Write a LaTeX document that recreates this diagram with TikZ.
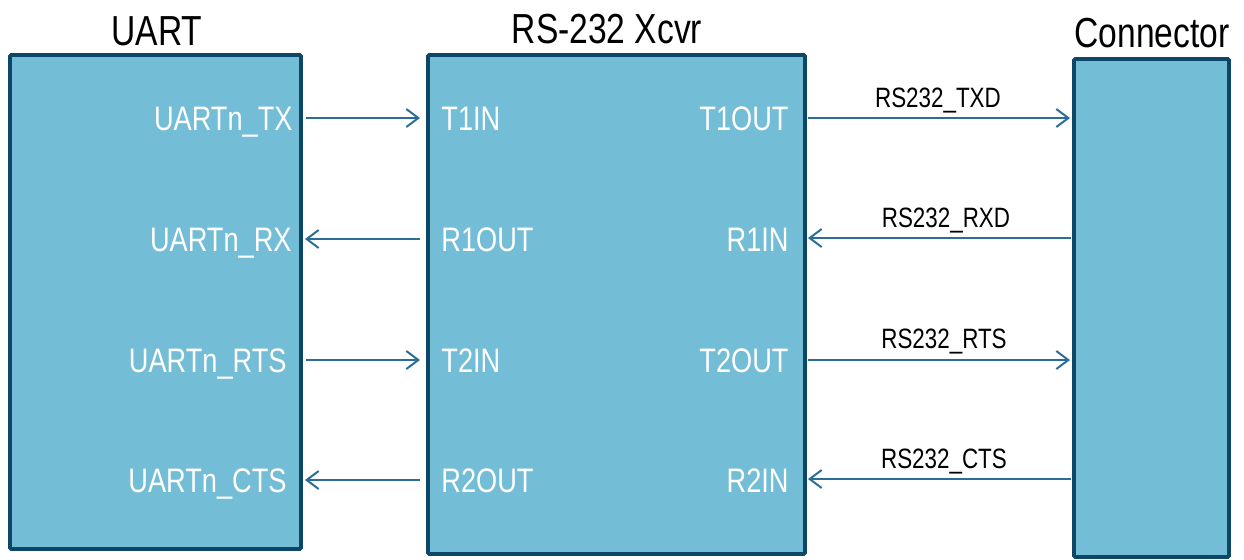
\documentclass[tikz,border=0pt]{standalone}
\usepackage{fontspec}
\setmainfont[FakeStretch=0.8]{Liberation Sans}
\usetikzlibrary{arrows.meta}
\definecolor{boxfill}{HTML}{73BDD7}
\definecolor{boxline}{HTML}{0D4767}
\definecolor{wire}{HTML}{2A6E97}
\begin{document}
\begin{tikzpicture}[x=0.5pt,y=-0.5pt,
  blk/.style={draw=boxline, line width=1.8pt, fill=boxfill, inner sep=0pt, rounded corners=0.6pt},
  ttl/.style={font=\fontsize{21}{24}\selectfont, text=black, inner sep=0pt, anchor=base},
  pin/.style={font=\fontsize{17}{20}\selectfont, text=white, inner sep=0pt},
  sig/.style={font=\fontsize{14}{16}\selectfont, text=black, inner sep=0pt, anchor=base},
  wireto/.style={draw=wire, line width=1pt, -{Straight Barb[length=6pt,width=9pt,line width=1pt]}}]
\useasboundingbox (0,0) rectangle (1244,559);
% blocks
\node[blk, minimum width=145.5pt, minimum height=247pt] (uart) at (155.5,302) {};
\node[blk, minimum width=188.5pt, minimum height=249.5pt] (xcvr) at (616.5,304.5) {};
\node[blk, minimum width=77.5pt, minimum height=249pt] (conn) at (1151.5,308) {};
% titles
\node[ttl] (tuart) at (157,45) {UART};
\node[ttl] (txcvr) at (607,43) {RS-232 Xcvr};
\node[ttl] (tconn) at (1152,47) {Connector};
% UART pins
\node[pin, anchor=base east] (utx) at (293,130) {UARTn\_TX};
\node[pin, anchor=base east] (urx) at (292,251) {UARTn\_RX};
\node[pin, anchor=base east] (urts) at (287,372) {UARTn\_RTS};
\node[pin, anchor=base east] (ucts) at (287,492) {UARTn\_CTS};
% Xcvr left pins
\node[pin, anchor=base west] (t1in) at (441,130) {T1IN};
\node[pin, anchor=base west] (r1out) at (441,251) {R1OUT};
\node[pin, anchor=base west] (t2in) at (441,372) {T2IN};
\node[pin, anchor=base west] (r2out) at (441,492) {R2OUT};
% Xcvr right pins
\node[pin, anchor=base east] (t1out) at (789,130) {T1OUT};
\node[pin, anchor=base east] (r1in) at (789,251) {R1IN};
\node[pin, anchor=base east] (t2out) at (789,372) {T2OUT};
\node[pin, anchor=base east] (r2in) at (789,492) {R2IN};
% wire end points
\coordinate (a1) at (306,118); \coordinate (b1) at (420,118);
\coordinate (a2) at (305,239); \coordinate (b2) at (420,239);
\coordinate (a3) at (306,360); \coordinate (b3) at (420,360);
\coordinate (a4) at (305,480); \coordinate (b4) at (420,480);
\coordinate (c1) at (808,118); \coordinate (d1) at (1070,118);
\coordinate (c2) at (808,238); \coordinate (d2) at (1071,238);
\coordinate (c3) at (808,360); \coordinate (d3) at (1070,360);
\coordinate (c4) at (808,479); \coordinate (d4) at (1071,479);
% wires
\draw[wireto] (a1) -- (b1);
\draw[wireto] (b2) -- (a2);
\draw[wireto] (a3) -- (b3);
\draw[wireto] (b4) -- (a4);
\draw[wireto] (c1) -- (d1);
\draw[wireto] (d2) -- (c2);
\draw[wireto] (c3) -- (d3);
\draw[wireto] (d4) -- (c4);
% signal labels
\node[sig] (s1) at (938,107) {RS232\_TXD};
\node[sig] (s2) at (946,227) {RS232\_RXD};
\node[sig] (s3) at (944,348) {RS232\_RTS};
\node[sig] (s4) at (944,468) {RS232\_CTS};
\end{tikzpicture}
\end{document}
